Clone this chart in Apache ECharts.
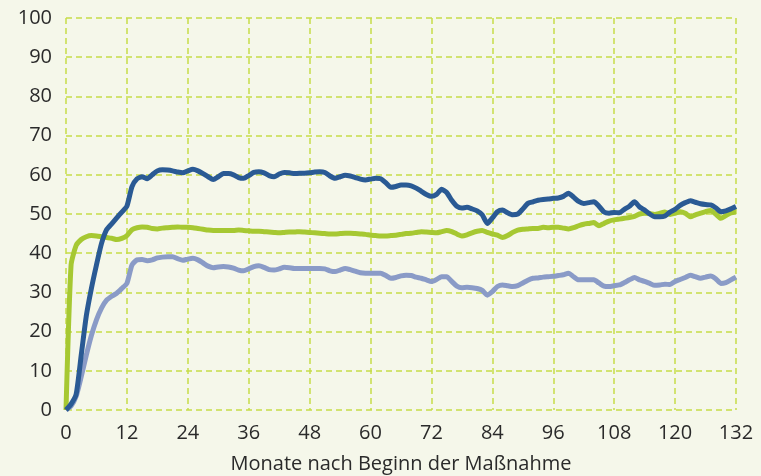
<!DOCTYPE html>
<html>
<head>
<meta charset="utf-8">
<script src="https://cdn.jsdelivr.net/npm/echarts@6/dist/echarts.min.js"></script>
<style>
  html, body { margin: 0; padding: 0; background: #f5f7ea; }
  #main { width: 761px; height: 476px; }
</style>
</head>
<body>
<div id="main"></div>
<script>
// months 0..132, one value per month (index = month)
var darkBlue = [
  0, 1.5, 4, 14, 24, 31, 37, 42.5, 46, 47.5, 49, 50.5, 52, 57, 59, 59.5, 59, 60, 61, 61.3,
  61.2, 61, 60.7, 60.5, 61, 61.4, 61, 60.3, 59.5, 58.8, 59.5, 60.3, 60.3, 60, 59.3, 59.1, 59.8, 60.6, 60.8, 60.5,
  59.8, 59.5, 60.2, 60.6, 60.5, 60.3, 60.4, 60.4, 60.5, 60.7, 60.8, 60.6, 59.7, 59.1, 59.5, 59.9, 59.7, 59.3, 58.9, 58.7,
  58.9, 59.1, 59, 58, 56.8, 57, 57.4, 57.4, 57.2, 56.6, 55.8, 55, 54.5, 55, 56.3, 55.5, 53.5, 52, 51.5, 51.7,
  51.3, 50.8, 49.8, 47.6, 49, 50.6, 51, 50.3, 49.8, 50, 51.3, 52.7, 53.1, 53.5, 53.7, 53.8, 54, 54.1, 54.5, 55.3,
  54.3, 53.2, 52.7, 52.9, 53.1, 52, 50.5, 50.2, 50.4, 50.3, 51.2, 52, 53.1, 51.8, 51, 50, 49.3, 49.3, 49.5, 50.5,
  51.2, 52.2, 52.9, 53.4, 53, 52.6, 52.4, 52.3, 51.6, 50.6, 50.8, 51.3, 51.9
];
var green = [
  0, 37, 42, 43.5, 44.2, 44.5, 44.4, 44.2, 44, 43.8, 43.5, 43.8, 44.5, 46, 46.5, 46.7, 46.6, 46.3, 46.2, 46.4,
  46.5, 46.6, 46.7, 46.6, 46.6, 46.5, 46.3, 46.1, 45.9, 45.8, 45.8, 45.8, 45.8, 45.8, 45.9, 45.8, 45.7, 45.6, 45.6, 45.5,
  45.4, 45.3, 45.2, 45.3, 45.4, 45.4, 45.5, 45.4, 45.3, 45.2, 45.1, 45, 44.9, 44.9, 45, 45.1, 45.1, 45, 44.9, 44.8,
  44.6, 44.5, 44.4, 44.4, 44.5, 44.6, 44.8, 45, 45.1, 45.3, 45.5, 45.4, 45.3, 45.2, 45.5, 45.8, 45.5, 44.9, 44.4, 44.7,
  45.2, 45.6, 45.8, 45.3, 44.9, 44.6, 44, 44.5, 45.3, 45.9, 46.1, 46.2, 46.3, 46.3, 46.6, 46.5, 46.6, 46.6, 46.4, 46.2,
  46.5, 47, 47.4, 47.6, 47.8, 47, 47.6, 48.2, 48.5, 48.7, 48.9, 49.1, 49.4, 50, 50.2, 50.1, 49.9, 50.2, 50.5, 49.9,
  50.2, 50.6, 50.2, 49.3, 49.8, 50.2, 50.6, 50.9, 50, 48.9, 49.6, 50.3, 50.5
];
var lightBlue = [
  0, 1, 3.5, 8.5, 14, 19, 23, 26, 28, 29, 29.8, 31, 32.3, 37, 38.3, 38.4, 38.1, 38.3, 38.8, 39,
  39.1, 39.1, 38.6, 38.2, 38.5, 38.7, 38.3, 37.5, 36.7, 36.3, 36.5, 36.6, 36.5, 36.2, 35.7, 35.5, 36, 36.6, 36.8, 36.4,
  35.8, 35.7, 36, 36.4, 36.3, 36.1, 36.1, 36.1, 36.1, 36.1, 36.1, 36, 35.5, 35.3, 35.7, 36.1, 35.8, 35.4, 35, 34.9,
  34.9, 34.9, 34.9, 34.3, 33.6, 33.8, 34.2, 34.4, 34.3, 33.9, 33.6, 33.2, 32.8, 33.3, 34, 34, 32.8, 31.6, 31.2, 31.3,
  31.2, 31, 30.5, 29.3, 30.2, 31.5, 31.9, 31.7, 31.5, 31.7, 32.4, 33.1, 33.6, 33.7, 33.9, 34, 34.1, 34.3, 34.5, 34.9,
  34, 33.2, 33.2, 33.2, 33.2, 32.4, 31.6, 31.5, 31.7, 31.9, 32.5, 33.2, 33.8, 33.2, 32.8, 32.3, 31.8, 31.9, 32.1, 32,
  32.8, 33.3, 33.8, 34.4, 34, 33.6, 33.9, 34.2, 33.5, 32.3, 32.5, 33.2, 33.9
];

function toPairs(arr) {
  return arr.map(function (v, i) { return [i, v]; });
}

var chart = echarts.init(document.getElementById('main'));
var gridLine = { show: true, lineStyle: { color: '#c6dd48', width: 1.5, type: [6, 4] } };
var labelFont = { color: '#2a2a2a', fontSize: 20, fontFamily: 'Open Sans' };

var option = {
  backgroundColor: '#f5f7ea',
  animation: false,
  grid: { left: 66, right: 25, top: 18, bottom: 66, outerBoundsMode: 'none' },
  xAxis: {
    type: 'value',
    min: 0, max: 132, interval: 12,
    name: 'Monate nach Beginn der Maßnahme',
    nameLocation: 'middle',
    nameGap: 44,
    nameTextStyle: labelFont,
    axisLine: { show: false },
    axisTick: { show: false },
    axisLabel: Object.assign({ margin: 13 }, labelFont),
    splitLine: gridLine
  },
  yAxis: {
    type: 'value',
    min: 0, max: 100, interval: 10,
    axisLine: { show: false },
    axisTick: { show: false },
    axisLabel: Object.assign({ margin: 14 }, labelFont),
    splitLine: gridLine
  },
  series: [
    {
      type: 'line', data: toPairs(lightBlue), showSymbol: false, smooth: 0.2,
      lineStyle: { color: '#8a9bc7', width: 5 }
    },
    {
      type: 'line', data: toPairs(green), showSymbol: false, smooth: 0.2,
      lineStyle: { color: '#a6c832', width: 5 }
    },
    {
      type: 'line', data: toPairs(darkBlue), showSymbol: false, smooth: 0.2,
      lineStyle: { color: '#2a5a94', width: 5 }
    }
  ]
};

chart.setOption(option);
</script>
</body>
</html>
